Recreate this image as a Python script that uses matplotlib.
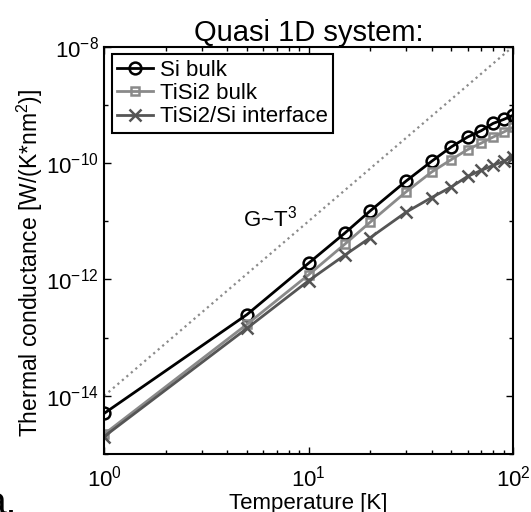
import numpy as np
import matplotlib
matplotlib.use("Agg")
import matplotlib.pyplot as plt
from matplotlib.ticker import FixedLocator, LogFormatterMathtext, NullFormatter, LogLocator

plt.rcParams['font.family'] = ['Liberation Sans', 'DejaVu Sans']
plt.rcParams['mathtext.fontset'] = 'custom'
plt.rcParams['mathtext.rm'] = 'Liberation Sans'
plt.rcParams['mathtext.it'] = 'Liberation Sans:italic'

# temperatures [K]
temps = [1, 5, 10, 15, 20, 30, 40, 50, 60, 70, 80, 90, 100]

# thermal conductance [W/(K*nm^2)]
si_bulk = [5.0e-15, 2.5e-13, 1.9e-12, 6.2e-12, 1.5e-11, 4.9e-11, 1.07e-10,
           1.9e-10, 2.8e-10, 3.6e-10, 4.8e-10, 5.6e-10, 6.6e-10]
tisi2_bulk = [2.2e-15, 1.7e-13, 1.2e-12, 4.0e-12, 9.6e-12, 3.2e-11, 7.0e-11,
              1.15e-10, 1.7e-10, 2.2e-10, 2.8e-10, 3.4e-10, 4.1e-10]
interface = [2.0e-15, 1.45e-13, 9.5e-13, 2.6e-12, 5.2e-12, 1.43e-11, 2.55e-11,
             3.9e-11, 5.9e-11, 7.5e-11, 9.1e-11, 1.07e-10, 1.26e-10]

# reference slope G ~ T^3
ref_t = [1, 100]
ref_g = [1e-14, 1e-8]

fig = plt.figure(figsize=(5.31, 5.12), dpi=100)
ax = fig.add_axes([0.196, 0.113, 0.770, 0.796])

ax.plot(ref_t, ref_g, color='#8c8c8c', ls=':', lw=1.6)
ax.plot(temps, si_bulk, color='black', lw=2, marker='o', ms=8.5,
        mfc='none', mew=1.8, label='Si bulk')
ax.plot(temps, tisi2_bulk, color='#8a8a8a', lw=2, marker='s', ms=6,
        mfc='none', mew=1.8, label='TiSi2 bulk')
ax.plot(temps, interface, color='#555555', lw=2, marker='x', ms=9,
        mew=1.8, label='TiSi2/Si interface')

ax.set_xscale('log')
ax.set_yscale('log')
ax.set_xlim(1, 100)
ax.set_ylim(1e-15, 1e-8)

ax.yaxis.set_major_locator(FixedLocator([1e-14, 1e-12, 1e-10, 1e-8]))
ax.yaxis.set_minor_locator(FixedLocator([1e-15, 1e-13, 1e-11, 1e-9]))
ax.yaxis.set_major_formatter(LogFormatterMathtext())
ax.yaxis.set_minor_formatter(NullFormatter())
ax.xaxis.set_major_locator(LogLocator(base=10, numticks=5))
ax.xaxis.set_minor_locator(LogLocator(base=10, subs=np.arange(2, 10), numticks=10))
ax.xaxis.set_minor_formatter(NullFormatter())

ax.tick_params(which='both', direction='in', top=True, right=True, labelsize=16)
ax.tick_params(which='major', length=5, width=1)
ax.tick_params(which='minor', length=3, width=1)
ax.tick_params(axis='x', pad=8)
ax.tick_params(axis='y', pad=4)
for s in ax.spines.values():
    s.set_linewidth(1.5)

ax.set_xlabel('Temperature [K]', fontsize=16, labelpad=1)
ax.set_ylabel('Thermal conductance [W/(K*nm$^2$)]', fontsize=16.5)
ax.yaxis.set_label_coords(-0.145, 0.47)
ax.set_title('Quasi 1D system:', fontsize=21, pad=2)

ax.text(6.5, 1.1e-11, 'G~T$^3$', fontsize=16, ha='center', va='center')

leg = ax.legend(loc='upper left', fontsize=16, handlelength=1.6, handletextpad=0.3,
                borderpad=0.25, labelspacing=0.1, borderaxespad=0.35,
                fancybox=False, framealpha=1)
leg.get_frame().set_edgecolor('black')
leg.get_frame().set_linewidth(1.5)

# cut-off panel label from the neighbouring figure
fig.text(-0.029, -0.004, 'a.', fontsize=28, ha='left', va='baseline')

fig.savefig('out.png', dpi=100)
